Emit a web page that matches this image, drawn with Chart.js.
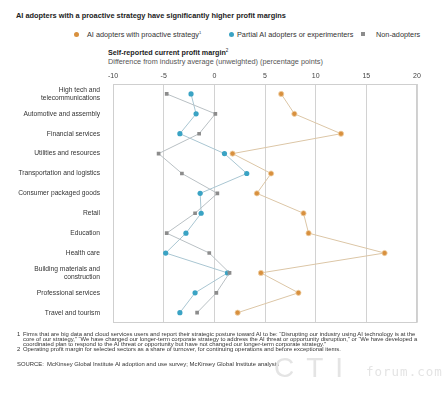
<!DOCTYPE html>
<html>
<head>
<meta charset="utf-8">
<script src="https://cdn.jsdelivr.net/npm/chart.js@4/dist/chart.umd.min.js"></script>
<style>
  html, body { margin: 0; padding: 0; background: #fff; }
  body { width: 447px; height: 393px; position: relative; overflow: hidden;
         font-family: "Liberation Sans", Arial, sans-serif; color: #222; }
  .abs { position: absolute; white-space: nowrap; }
  #title { left: 16px; top: 11px; font-size: 7.4px; font-weight: bold; }
  .leg { top: 29.5px; font-size: 7.3px; color: #333; }
  .dot { position: absolute; width: 5px; height: 5px; border-radius: 50%; top: 31.5px; }
  .sq { position: absolute; width: 4px; height: 4px; top: 32px; background: #8c8c8c; }
  #sub1 { left: 108px; top: 47.5px; font-size: 7.2px; font-weight: bold; }
  #sub2 { left: 108px; top: 56.5px; font-size: 7.3px; color: #555; }
  #chart { position: absolute; left: 0; top: 66px; }
  .fn { font-size: 5.9px; line-height: 4.8px; color: #333; white-space: normal; }
  .wm { color: #e4e4e4; }
</style>
</head>
<body>
<div id="title" class="abs">AI adopters with a proactive strategy have significantly higher profit margins</div>

<span class="dot" style="left:74px;background:#d8903e"></span>
<div class="abs leg" style="left:87px">AI adopters with proactive strategy<sup style="font-size:4px">1</sup></div>
<span class="dot" style="left:229px;background:#3aa3c4"></span>
<div class="abs leg" style="left:237px">Partial AI adopters or experimenters</div>
<span class="sq" style="left:361px"></span>
<div class="abs leg" style="left:376px">Non-adopters</div>

<div id="sub1" class="abs">Self-reported current profit margin<sup style="font-size:4.5px;font-weight:normal">2</sup></div>
<div id="sub2" class="abs">Difference from industry average (unweighted) (percentage points)</div>

<canvas id="chart" width="447" height="270"></canvas>

<div class="abs fn" style="left:17px;top:332px">1</div>
<div class="abs fn" style="left:23px;top:332px;width:405px">Firms that are big data and cloud services users and report their strategic posture toward AI to be: “Disrupting our industry using AI technology is at the core of our strategy,” “We have changed our longer-term corporate strategy to address the AI threat or opportunity disruption,” or “We have developed a coordinated plan to respond to the AI threat or opportunity but have not changed our longer-term corporate strategy.”</div>
<div class="abs fn" style="left:17px;top:346.5px">2</div>
<div class="abs fn" style="left:23px;top:346.5px">Operating profit margin for selected sectors as a share of turnover, for continuing operations and before exceptional items.</div>
<div class="abs fn" style="left:17px;top:361.5px">SOURCE:&nbsp; McKinsey Global Institute AI adoption and use survey; McKinsey Global Institute analysis</div>

<div class="abs wm" style="left:274px;top:352px;font-size:28px;font-weight:300;letter-spacing:12px">CTI</div>
<div class="abs wm" style="left:366px;top:364px;font-size:12.5px;letter-spacing:1px;font-family:'DejaVu Sans Mono',monospace">forum.com</div>

<script>
document.addEventListener('DOMContentLoaded', function () {

    // ==========================================================================
    // Data (percentage points vs industry average)
    // ==========================================================================
    const industries = [
        ['High tech and', 'telecommunications'],
        'Automotive and assembly',
        'Financial services',
        'Utilities and resources',
        'Transportation and logistics',
        'Consumer packaged goods',
        'Retail',
        'Education',
        'Health care',
        ['Building materials and', 'construction'],
        'Professional services',
        'Travel and tourism'
    ];
    const proactiveAdopters = [6.6, 7.9, 12.5, 1.8, 5.6, 4.2, 8.8, 9.3, 16.8, 4.6, 8.3, 2.3];
    const partialAdopters = [-2.3, -1.8, -3.4, 1.0, 3.2, -1.4, -1.3, -2.8, -4.8, 1.3, -1.9, -3.4];
    const nonAdopters = [-4.7, 0.1, -1.5, -5.5, -3.2, 0.3, -1.9, -4.7, -0.5, 1.5, 0.2, -1.7];
    const xTicks = [-10, -5, 0, 5, 10, 15, 20];

    // ==========================================================================
    // Plot frame plugin
    // ==========================================================================
    const frame = {
        id: 'frame',
        beforeDatasetsDraw(chart) {
            const { ctx, chartArea: a } = chart;
            ctx.save();
            ctx.strokeStyle = '#cfcfcf';
            ctx.lineWidth = 1;
            ctx.strokeRect(Math.round(a.left) + 0.5, Math.round(a.top) + 0.5,
                Math.round(a.right - a.left) - 1, Math.round(a.bottom - a.top) - 1);
            ctx.restore();
        }
    };

    const font = { family: '"Liberation Sans", Arial, sans-serif', size: 6.7 };

    new Chart(document.getElementById('chart').getContext('2d'), {
        type: 'line',
        data: {
            labels: industries,
            datasets: [
                {
                    label: 'Non-adopters',
                    data: nonAdopters,
                    borderColor: '#b9c0c4',
                    borderWidth: 1,
                    pointStyle: 'rect',
                    pointRadius: 2.6,
                    pointBackgroundColor: '#8c8c8c',
                    pointBorderColor: '#8c8c8c',
                    pointBorderWidth: 0
                },
                {
                    label: 'Partial AI adopters or experimenters',
                    data: partialAdopters,
                    borderColor: '#a9c6d2',
                    borderWidth: 1,
                    pointRadius: 2.6,
                    pointBackgroundColor: '#3aa3c4',
                    pointBorderColor: '#3aa3c4',
                    pointBorderWidth: 0
                },
                {
                    label: 'AI adopters with proactive strategy',
                    data: proactiveAdopters,
                    borderColor: '#dcc6a6',
                    borderWidth: 1,
                    pointRadius: 2.6,
                    pointBackgroundColor: '#d8903e',
                    pointBorderColor: '#f0d2a8',
                    pointBorderWidth: 0.8
                }
            ]
        },
        options: {
            responsive: false,
            animation: false,
            indexAxis: 'y',
            layout: { padding: { left: 0, right: 30, top: 0, bottom: 3 } },
            scales: {
                x: {
                    type: 'linear',
                    position: 'top',
                    min: -10,
                    max: 20,
                    afterBuildTicks: scale => { scale.ticks = xTicks.map(v => ({ value: v })); },
                    afterFit: scale => { scale.height = 18; },
                    grid: { color: '#d2d2d2', lineWidth: 1, drawTicks: false },
                    border: { display: false },
                    ticks: { color: '#444', font: { ...font, size: 7 }, padding: 4, maxRotation: 0 }
                },
                y: {
                    type: 'category',
                    offset: true,
                    afterFit: scale => { scale.width = 113; },
                    grid: { display: false },
                    border: { display: false },
                    ticks: { color: '#333', font: { ...font, lineHeight: 1.25 }, padding: 5, autoSkip: false }
                }
            },
            plugins: {
                legend: { display: false },
                tooltip: { enabled: false }
            }
        },
        plugins: [frame]
    });
});
</script>
</body>
</html>
